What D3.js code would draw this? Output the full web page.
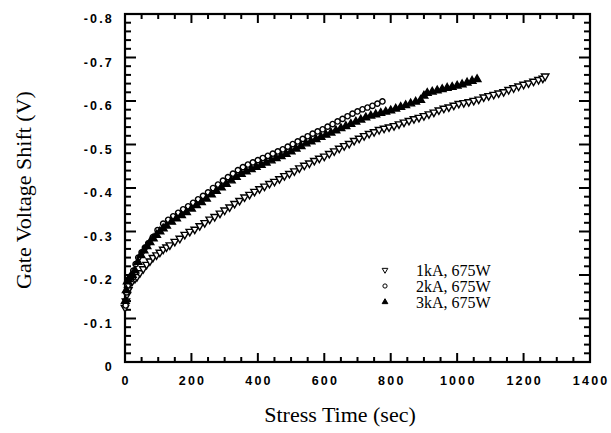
<!DOCTYPE html>
<html lang="en">
<head>
    <meta charset="UTF-8">
    <title>Gate Voltage Shift vs Stress Time</title>
    <script src="https://d3js.org/d3.v7.min.js"></script>
    <style>
        body { margin: 0; background: #fff; }
        .tick-label { font-family: "Liberation Sans", Arial, sans-serif; font-size: 12.5px; font-weight: bold; letter-spacing: 2.2px; }
        .title { font-family: "Liberation Serif", "Times New Roman", serif; font-size: 22px; }
        .legend-text { font-family: "Liberation Serif", "Times New Roman", serif; font-size: 16px; }
    </style>
</head>
<body>
<svg width="611" height="433"></svg>
<script>
    // Series data (time in sec, shift in V)
    const t1k = [0, 3, 6, 10, 15, 22, 30, 36, 45, 55, 65, 75, 84, 95, 105, 115, 125, 135, 150, 165, 180, 195, 210, 225, 240, 255, 270, 286, 300, 315, 330, 345, 360, 375, 390, 405, 420, 435, 450, 465, 480, 495, 510, 525, 540, 555, 570, 585, 600, 615, 630, 645, 660, 675, 690, 705, 720, 735, 750, 765, 780, 795, 810, 825, 840, 855, 870, 885, 900, 915, 930, 945, 960, 975, 990, 1005, 1020, 1035, 1050, 1065, 1080, 1095, 1110, 1125, 1140, 1155, 1170, 1185, 1200, 1215, 1230, 1245, 1258, 1265];
    const v1k = [-0.125, -0.14, -0.155, -0.166, -0.18, -0.186, -0.192, -0.196, -0.205, -0.214, -0.224, -0.232, -0.240, -0.246, -0.252, -0.259, -0.264, -0.269, -0.277, -0.284, -0.293, -0.300, -0.305, -0.313, -0.320, -0.328, -0.334, -0.342, -0.349, -0.356, -0.364, -0.371, -0.379, -0.385, -0.392, -0.398, -0.404, -0.410, -0.415, -0.421, -0.428, -0.433, -0.439, -0.446, -0.452, -0.457, -0.463, -0.468, -0.473, -0.479, -0.485, -0.491, -0.497, -0.502, -0.509, -0.514, -0.520, -0.525, -0.529, -0.534, -0.537, -0.540, -0.543, -0.547, -0.551, -0.555, -0.559, -0.562, -0.566, -0.570, -0.574, -0.579, -0.583, -0.586, -0.590, -0.594, -0.596, -0.598, -0.601, -0.604, -0.609, -0.612, -0.615, -0.618, -0.621, -0.626, -0.630, -0.634, -0.638, -0.641, -0.645, -0.649, -0.652, -0.657];

    const t2k = [2, 5, 8, 12, 18, 25, 32, 40, 50, 60, 70, 84, 98, 115, 130, 145, 160, 175, 190, 205, 220, 235, 250, 265, 280, 295, 310, 325, 340, 355, 370, 385, 400, 415, 430, 445, 460, 475, 490, 505, 520, 535, 550, 565, 580, 595, 610, 625, 640, 655, 670, 685, 700, 715, 730, 745, 760, 775];
    const v2k = [-0.13, -0.16, -0.176, -0.19, -0.196, -0.21, -0.225, -0.24, -0.252, -0.263, -0.273, -0.287, -0.303, -0.318, -0.327, -0.335, -0.343, -0.351, -0.358, -0.366, -0.374, -0.382, -0.390, -0.400, -0.408, -0.417, -0.425, -0.433, -0.441, -0.448, -0.454, -0.459, -0.464, -0.469, -0.474, -0.479, -0.484, -0.489, -0.495, -0.501, -0.507, -0.513, -0.519, -0.525, -0.530, -0.535, -0.541, -0.547, -0.553, -0.559, -0.565, -0.571, -0.576, -0.581, -0.585, -0.589, -0.594, -0.599];

    const t3k = [1, 4, 7, 11, 16, 22, 30, 39, 48, 57, 66, 75, 85, 95, 105, 115, 125, 140, 155, 170, 185, 200, 215, 230, 245, 260, 275, 290, 305, 320, 335, 350, 365, 380, 395, 410, 425, 440, 455, 470, 485, 500, 515, 530, 545, 560, 575, 590, 605, 620, 635, 650, 665, 680, 695, 710, 725, 740, 755, 770, 785, 800, 815, 830, 845, 860, 875, 890, 900, 910, 925, 940, 955, 970, 985, 1000, 1015, 1030, 1045, 1060];
    const v3k = [-0.14, -0.165, -0.185, -0.19, -0.195, -0.20, -0.21, -0.23, -0.245, -0.256, -0.266, -0.275, -0.284, -0.292, -0.300, -0.307, -0.313, -0.322, -0.330, -0.337, -0.344, -0.352, -0.360, -0.367, -0.375, -0.385, -0.393, -0.401, -0.409, -0.417, -0.425, -0.432, -0.438, -0.443, -0.448, -0.453, -0.458, -0.463, -0.468, -0.473, -0.478, -0.484, -0.490, -0.496, -0.502, -0.507, -0.512, -0.517, -0.522, -0.527, -0.532, -0.537, -0.542, -0.547, -0.552, -0.557, -0.562, -0.566, -0.569, -0.572, -0.575, -0.578, -0.582, -0.586, -0.590, -0.594, -0.598, -0.602, -0.612, -0.618, -0.621, -0.624, -0.627, -0.630, -0.632, -0.635, -0.638, -0.642, -0.646, -0.650];

    const seriesNames = ["1kA, 675W", "2kA, 675W", "3kA, 675W"];
    const xMajor = [0, 200, 400, 600, 800, 1000, 1200, 1400];
    const yMajor = [0, -0.1, -0.2, -0.3, -0.4, -0.5, -0.6, -0.7, -0.8];

    const svg = d3.select("svg");
    const plotLeft = 125, plotRight = 590, plotTop = 14, plotBottom = 362;

    const x = d3.scaleLinear().domain([0, 1400]).range([plotLeft, plotRight]);
    const y = d3.scaleLinear().domain([0, -0.8]).range([plotBottom, plotTop]);

    const xMinor = d3.range(0, 1401, 50).filter(d => d % 200 !== 0);
    const yMinor = d3.range(0, 41).map(i => -i * 0.02).filter((d, i) => i % 5 !== 0);

    // inward ticks on all four sides
    const tickG = svg.append("g");
    function xTicks(vals, len) {
        [[plotBottom, -len], [plotTop, len]].forEach(([y0, dy]) => {
            tickG.selectAll(null).data(vals).enter().append("line")
                .attr("x1", d => x(d)).attr("x2", d => x(d))
                .attr("y1", y0).attr("y2", y0 + dy)
                .attr("stroke", "#000").attr("stroke-width", 2);
        });
    }
    function yTicks(vals, len) {
        [[plotLeft, len], [plotRight, -len]].forEach(([x0, dx]) => {
            tickG.selectAll(null).data(vals).enter().append("line")
                .attr("y1", d => y(d)).attr("y2", d => y(d))
                .attr("x1", x0).attr("x2", x0 + dx)
                .attr("stroke", "#000").attr("stroke-width", 2);
        });
    }
    xTicks(xMajor, 9);
    xTicks(xMinor, 5);
    yTicks(yMajor, 11);
    yTicks(yMinor, 6);

    // frame
    svg.append("rect")
        .attr("x", plotLeft).attr("y", plotTop)
        .attr("width", plotRight - plotLeft).attr("height", plotBottom - plotTop)
        .attr("fill", "none").attr("stroke", "#000").attr("stroke-width", 2.2);

    // tick labels from d3 axes
    const xAxis = svg.append("g").attr("transform", `translate(0,${plotBottom})`)
        .call(d3.axisBottom(x).tickValues(xMajor).tickSize(0).tickPadding(14)
            .tickFormat(d3.format("d")));
    const yAxis = svg.append("g").attr("transform", `translate(${plotLeft},0)`)
        .call(d3.axisLeft(y).tickValues(yMajor).tickSize(0).tickPadding(11)
            .tickFormat(d => d === 0 ? "0" : d.toFixed(1)));
    [xAxis, yAxis].forEach(g => {
        g.select(".domain").remove();
        g.selectAll("line").remove();
        g.selectAll("text").attr("class", "tick-label").attr("fill", "#000");
    });
    xAxis.selectAll("text").attr("dx", "0.05em");
    yAxis.selectAll("text").attr("dy", "0.68em");

    // markers
    const symDown = d3.symbol().type(d3.symbolTriangle).size(24);
    const symCircle = d3.symbol().type(d3.symbolCircle).size(22);
    const symUp = d3.symbol().type(d3.symbolTriangle).size(26);

    const series = [
        { t: t1k, v: v1k, sym: symDown, rot: 180, fill: "#fff" },
        { t: t2k, v: v2k, sym: symCircle, rot: 0, fill: "#fff" },
        { t: t3k, v: v3k, sym: symUp, rot: 0, fill: "#000" }
    ];

    series.forEach(s => {
        svg.append("g").selectAll("path")
            .data(s.t.map((t, i) => [t, s.v[i]]))
            .enter().append("path")
            .attr("d", s.sym)
            .attr("transform", d => `translate(${x(d[0])},${y(d[1])}) rotate(${s.rot})`)
            .attr("fill", s.fill)
            .attr("stroke", "#000")
            .attr("stroke-width", 1.4);
    });

    // legend
    const legend = svg.append("g").attr("transform", "translate(385,270)");
    series.forEach((s, i) => {
        const row = legend.append("g").attr("transform", `translate(0,${i * 16})`);
        row.append("path")
            .attr("d", d3.symbol().type(i === 1 ? d3.symbolCircle : d3.symbolTriangle).size(14))
            .attr("transform", `rotate(${s.rot})`)
            .attr("fill", s.fill).attr("stroke", "#000").attr("stroke-width", 1);
        row.append("text")
            .attr("class", "legend-text")
            .attr("x", 31).attr("y", 5.5)
            .text(seriesNames[i]);
    });

    // axis titles
    svg.append("text").attr("class", "title")
        .attr("x", 340).attr("y", 422)
        .attr("text-anchor", "middle")
        .text("Stress Time (sec)");

    svg.append("text").attr("class", "title")
        .attr("transform", "translate(31,190) rotate(-90)")
        .attr("text-anchor", "middle")
        .text("Gate Voltage Shift (V)");
</script>
</body>
</html>
